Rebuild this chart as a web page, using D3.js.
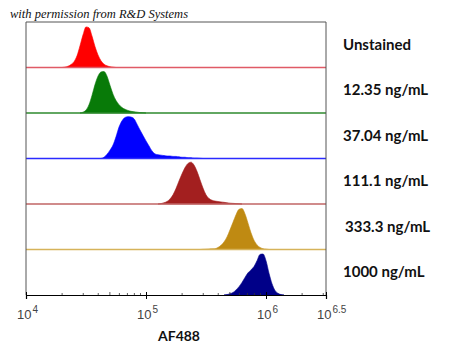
<!DOCTYPE html>
<html>
<head>
<meta charset="utf-8">
<script src="https://cdn.jsdelivr.net/npm/d3@7"></script>
<style>
  body { margin: 0; background: #fff; }
  svg { display: block; }
</style>
</head>
<body>
<div id="chart"></div>
<script>
var width = 450;
var height = 354;

// samples, top to bottom
var samples = ["Unstained", "12.35 ng/mL", "37.04 ng/mL", "111.1 ng/mL", "333.3 ng/mL", "1000 ng/mL"];
var fillColors = ["#ff0000", "#087a08", "#0000ff", "#a31f1f", "#bf8a12", "#000088"];
var lineColors = ["#e05a66", "#2e8a2e", "#2b2bff", "#c06464", "#d6b35a", "#000000"];

// histogram bins: first bin centre (log10 AF488), bin width 0.025 decades, normalised counts
var binStep = 0.025;
var binStart = [4.30, 4.45, 4.625, 5.10, 5.45, 5.65];
var counts = [
  [0, 0.01, 0.03, 0.07, 0.14, 0.28, 0.52, 0.78, 0.97, 0.95, 0.75, 0.5, 0.3, 0.16, 0.08, 0.04, 0.02, 0.01, 0],
  [0, 0.02, 0.07, 0.2, 0.42, 0.68, 0.88, 0.98, 0.99, 0.88, 0.66, 0.45, 0.3, 0.2, 0.13, 0.09, 0.06, 0.04, 0.03, 0.02, 0.01, 0.005, 0],
  [0, 0.03, 0.1, 0.2, 0.32, 0.52, 0.75, 0.9, 0.98, 1.0, 0.99, 0.95, 0.82, 0.68, 0.55, 0.42, 0.3, 0.18, 0.11, 0.09, 0.08, 0.07, 0.06, 0.06, 0.05, 0.05, 0.04, 0.03, 0.03, 0.02, 0.02, 0.01, 0.01, 0.005, 0],
  [0, 0.01, 0.03, 0.06, 0.12, 0.22, 0.37, 0.55, 0.72, 0.87, 0.97, 1.0, 0.93, 0.78, 0.58, 0.38, 0.22, 0.13, 0.09, 0.07, 0.06, 0.05, 0.04, 0.03, 0.02, 0.015, 0.01, 0.005, 0],
  [0, 0.005, 0.008, 0.012, 0.015, 0.02, 0.05, 0.1, 0.18, 0.3, 0.47, 0.65, 0.83, 0.96, 0.98, 0.85, 0.63, 0.4, 0.22, 0.11, 0.05, 0.02, 0.01, 0],
  [0, 0.01, 0.03, 0.06, 0.12, 0.2, 0.3, 0.42, 0.53, 0.6, 0.68, 0.82, 0.97, 0.98, 0.82, 0.52, 0.27, 0.11, 0.04, 0.01, 0]
];

var majorTicks = [4, 5, 6, 6.5];
var tickLabels = ["4", "5", "6", "6.5"];

var margin = {left: 26, right: 124, top: 22, bottom: 59};
var plotW = width - margin.left - margin.right;
var plotH = height - margin.top - margin.bottom;

var svg = d3.select("#chart")
    .append("svg")
    .attr("width", width)
    .attr("height", height);

svg.append("text")
    .attr("x", 10)
    .attr("y", 18)
    .style("font-family", "Liberation Serif")
    .style("font-style", "italic")
    .style("font-size", "12.5px")
    .attr("fill", "#111")
    .text("with permission from R&D Systems");

var g = svg.append("g")
    .attr("transform", "translate(" + margin.left + "," + margin.top + ")");

var x = d3.scaleLog()
    .domain([1e4, Math.pow(10, 6.5)])
    .range([0, plotW]);

var band = d3.scaleBand()
    .domain(samples)
    .range([0, plotH])
    .paddingInner(0);

var peakH = band.bandwidth() * 0.92;

samples.forEach(function (name, i) {
    var base = band(name) + band.bandwidth();
    var y = d3.scaleLinear().domain([0, 1]).range([base, base - peakH]);
    var data = counts[i].map(function (c, j) {
        return {v: Math.pow(10, binStart[i] + j * binStep), c: c};
    });

    var area = d3.area()
        .x(d => x(d.v))
        .y0(base)
        .y1(d => y(d.c))
        .curve(d3.curveMonotoneX);

    g.append("path")
        .datum(data)
        .attr("d", area)
        .attr("fill", fillColors[i])
        .attr("stroke", fillColors[i])
        .attr("stroke-width", 0.6);

    if (i < samples.length - 1) {
        g.append("line")
            .attr("x1", 0)
            .attr("x2", plotW)
            .attr("y1", base)
            .attr("y2", base)
            .attr("stroke", lineColors[i])
            .attr("stroke-width", 1.4);
    }

    svg.append("text")
        .attr("x", i == 4 ? 345 : 343)
        .attr("y", margin.top + band(name) + band.bandwidth() / 2 + 5)
        .style("font-family", "Lato")
        .style("font-weight", "bold")
        .style("font-size", "15px")
        .attr("fill", "#111")
        .text(name);
});

// frame
g.append("path")
    .attr("d", "M0," + plotH + "V0H" + plotW + "V" + plotH)
    .attr("fill", "none")
    .attr("stroke", "#555")
    .attr("stroke-width", 1);

// x axis
var xAxis = d3.axisBottom(x)
    .tickValues(majorTicks.map(e => Math.pow(10, e)))
    .tickSize(4)
    .tickFormat("");

var axisG = g.append("g")
    .attr("transform", "translate(0," + plotH + ")")
    .call(xAxis);
axisG.select(".domain").attr("stroke", "#000").attr("stroke-width", 1.2);
axisG.selectAll(".tick line").attr("y1", -3).attr("stroke", "#000");

// minor ticks
var minor = [];
[4, 5, 6].forEach(function (e) {
    for (var m = 2; m <= 9; m++) {
        var v = m * Math.pow(10, e);
        if (v < Math.pow(10, 6.5)) minor.push(v);
    }
});
axisG.selectAll(".minor")
    .data(minor)
    .enter()
    .append("line")
    .attr("class", "minor")
    .attr("x1", d => x(d))
    .attr("x2", d => x(d))
    .attr("y1", 0)
    .attr("y2", (d, i) => (i % 8 == 3) ? -3 : -2)
    .attr("stroke", "#333")
    .attr("stroke-width", 0.8);

// tick labels 10^n
var lab = axisG.selectAll(".tlabel")
    .data(majorTicks)
    .enter()
    .append("text")
    .attr("class", "tlabel")
    .attr("x", d => x(Math.pow(10, d)) - 9)
    .attr("y", 24)
    .attr("text-anchor", "start")
    .style("font-family", "Liberation Sans")
    .style("font-size", "13px")
    .attr("fill", "#444");
lab.append("tspan").text("10");
lab.append("tspan")
    .attr("dx", 1)
    .attr("dy", -6)
    .style("font-size", "10px")
    .text((d, i) => tickLabels[i]);

svg.append("text")
    .attr("x", 179)
    .attr("y", 341)
    .attr("text-anchor", "middle")
    .style("font-family", "Lato")
    .style("font-weight", "bold")
    .style("font-size", "14px")
    .attr("fill", "#111")
    .text("AF488");
</script>
</body>
</html>
